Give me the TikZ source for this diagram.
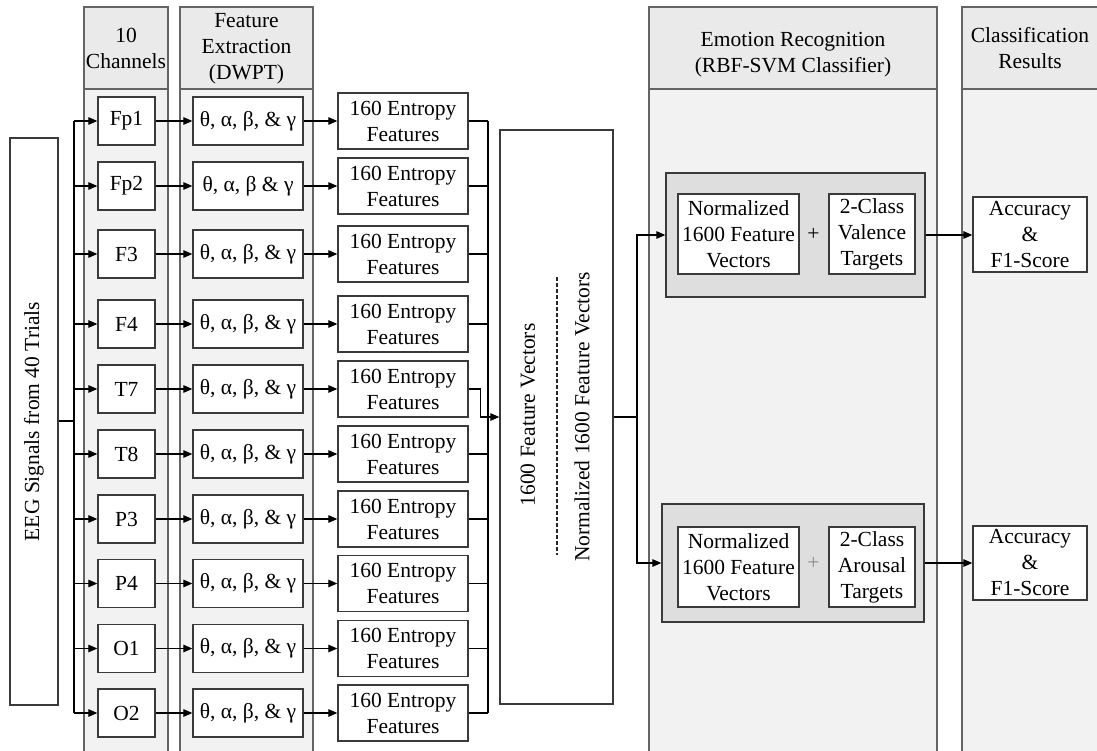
\documentclass[tikz,border=0pt]{standalone}
\usepackage{fontspec}
\setmainfont{Liberation Serif}
\usetikzlibrary{arrows.meta}
\definecolor{colbody}{HTML}{F2F2F2}
\definecolor{colhead}{HTML}{EAEAEA}
\definecolor{grpfill}{HTML}{DEDEDE}
\definecolor{colline}{HTML}{646464}
\definecolor{boxline}{HTML}{3A3A3A}
\begin{document}
\begin{tikzpicture}[x=1pt,y=-1pt,
  font=\fontsize{21.5}{26}\selectfont,
  box/.style={draw=boxline, line width=1.3pt, fill=white, inner sep=0pt, align=center},
  colbox/.style={draw=colline, line width=1.6pt, fill=colbody, inner sep=0pt},
  headbox/.style={draw=colline, line width=1.6pt, fill=colhead, inner sep=0pt, align=center},
  grp/.style={draw=boxline, line width=1.3pt, fill=grpfill, inner sep=0pt},
  arr/.style={-{Triangle[length=9pt,width=7.5pt]}, line width=1.2pt, black},
  ln/.style={line width=1.2pt, black},
  txt/.style={inner sep=0pt, align=center}]
\clip (0,0) rectangle (1097,751);
\fill[white] (0,0) rectangle (1097,751);

% columns
\path[colbox] (84,89) rectangle (168,770);
\path[headbox] (84,7) rectangle (168,89);
\node[txt] (hchan) at (126,48.5) {10\\Channels};

\path[colbox] (180,89) rectangle (313,770);
\path[headbox] (180,7) rectangle (313,89);
\node[txt] (hfeat) at (246.5,48.5) {Feature\\Extraction\\(DWPT)};

\path[colbox] (649,89) rectangle (937,770);
\path[headbox] (649,7) rectangle (937,89);
\node[txt] (hemo) at (793,54.5) {Emotion Recognition\\(RBF-SVM Classifier)};

\path[colbox] (962,89) rectangle (1120,770);
\path[headbox] (962,7) rectangle (1120,89);
\node[txt] (hcls) at (1030,48) {Classification\\Results};

% EEG box
\node[box, minimum width=48pt, minimum height=567pt] (eeg) at (34,421.5) {};
\node[txt, rotate=90] (eegtxt) at (34,421.5) {EEG Signals from 40 Trials};

% rows
\foreach \i/\y/\ch in {1/121/Fp1, 2/186/Fp2, 3/254/F3, 4/324/F4, 5/389/T7, 6/454/T8, 7/519/P3, 8/583.5/P4, 9/648.5/O1, 10/713/O2}{
  \node[box, minimum width=57pt, minimum height=48pt] (c\i) at (126.5,\y) {\ch};
  \node[box, minimum width=110pt, minimum height=48pt] (b\i) at (248,\y) {%
    \ifnum\i=2 θ, α, β \& γ\else θ, α, β, \& γ\fi};
  \node[box, minimum width=130pt, minimum height=56pt] (e\i) at (403,\y) {160 Entropy\\Features};
}

% vector box
\node[box, minimum width=113pt, minimum height=574pt] (vec) at (556.5,417) {};
\node[txt, rotate=90] (v1) at (528,415) {1600 Feature Vectors};
\node[txt, rotate=90] (v2) at (582,417) {Normalized 1600 Feature Vectors};
\coordinate (dT) at (557,277);
\coordinate (dB) at (557,555);
\draw[line width=1.3pt, dash pattern=on 4pt off 2pt, black!85] (dT) -- (dB);

% valence group
\node[grp, minimum width=259pt, minimum height=124pt] (valg) at (795.5,235) {};
\node[box, minimum width=121pt, minimum height=80pt] (nv1) at (738.5,234) {Normalized\\1600 Feature\\Vectors};
\node[box, minimum width=86pt, minimum height=80pt] (tv) at (872,234) {2-Class\\Valence\\Targets};
\node[txt] (pv) at (813.5,234) {+};

% arousal group
\node[grp, minimum width=262pt, minimum height=118pt] (arog) at (793,563) {};
\node[box, minimum width=121pt, minimum height=80pt] (nv2) at (738.5,567) {Normalized\\1600 Feature\\Vectors};
\node[box, minimum width=86pt, minimum height=80pt] (ta) at (872,567) {2-Class\\Arousal\\Targets};
\node[txt, text=black!45] (pa) at (813.5,563) {+};

% results
\node[box, minimum width=114pt, minimum height=75pt] (acc1) at (1030,234.5) {Accuracy\\\&\\F1-Score};
\node[box, minimum width=114pt, minimum height=74pt] (acc2) at (1030,563) {Accuracy\\\&\\F1-Score};

% EEG to channels
\coordinate (busT) at (74,121);
\coordinate (busM) at (74,421);
\coordinate (busB) at (74,713);
\draw[ln] (eeg.east |- busM) -- (busM);
\draw[line width=2.6pt] (busM) -- (busT);
\draw[ln] (busM) -- (busB);
\foreach \i in {1,...,10}{
  \draw[arr] (busT |- c\i) -- (c\i);
  \draw[arr] (c\i) -- (b\i);
  \draw[arr] (b\i) -- (e\i);
}

% entropy to vector box
\coordinate (ebT) at (488,121);
\coordinate (ebB) at (488,713);
\draw[ln] (ebT) -- (ebB);
\foreach \i in {1,2,3,4,6,7,8,9,10}{
  \draw[ln] (e\i.east) -- (ebT |- e\i.east);
}
\draw[arr] (e5.east) -- ++(12,0) |- (vec.west);

% vector box to groups
\coordinate (split) at (637,417);
\draw[ln] (vec.east) -- (split);
\draw[arr] (split) |- (valg.west);
\draw[arr] (split) |- (arog.west);

% groups to results
\draw[arr] (valg.east) -- (valg.east -| acc1.west);
\draw[arr] (arog.east) -- (arog.east -| acc2.west);
\end{tikzpicture}
\end{document}
